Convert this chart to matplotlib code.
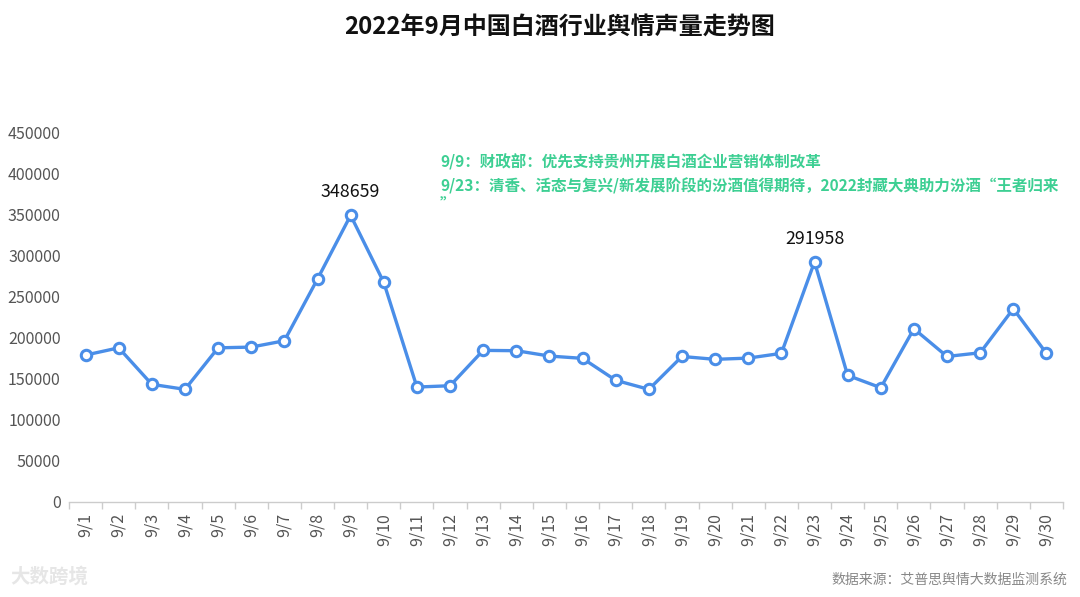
import matplotlib
matplotlib.use("Agg")
import matplotlib.pyplot as plt

plt.rcParams['font.family'] = ['Noto Sans CJK SC', 'DejaVu Sans']

dates = [f"9/{d}" for d in range(1, 31)]
values = [178700, 187500, 143100, 137000, 187500, 188400, 196100, 271200, 348659, 267100,
          139800, 141400, 184400, 184000, 177500, 174700, 148000, 137000, 177000, 173500,
          175000, 180800, 291958, 154000, 139000, 210700, 177000, 181500, 235000, 180800]
labelled = [8, 22]
yticks = [0, 50000, 100000, 150000, 200000, 250000, 300000, 350000, 400000, 450000]
title = "2022年9月中国白酒行业舆情声量走势图"
notes = ["9/9：财政部：优先支持贵州开展白酒企业营销体制改革",
         "9/23：清香、活态与复兴/新发展阶段的汾酒值得期待，2022封藏大典助力汾酒“王者归来",
         "”"]
source = "数据来源：艾普思舆情大数据监测系统"

W, H = 1080, 597
fig = plt.figure(figsize=(W / 100, H / 100), dpi=100)
ax = fig.add_axes([69 / W, 1 - 502 / H, (1063 - 69) / W, (502 - 132) / H])

x = list(range(len(dates)))
ax.plot(x, values, color='#4a8ee8', lw=2.4, marker='o', markersize=7.5,
        markerfacecolor='white', markeredgecolor='#4a8ee8', markeredgewidth=2.2,
        zorder=3, clip_on=False)

for i in labelled:
    ax.annotate(str(values[i]), (x[i], values[i]), xytext=(0, 10), textcoords='offset points',
                ha='center', va='bottom', fontsize=12.8, color='#111111')

ax.set_xlim(-0.5, len(dates) - 0.5)
ax.set_ylim(0, 450000)
ax.set_yticks(yticks)
ax.set_yticklabels([str(v) for v in yticks])
ax.set_xticks(x)
ax.set_xticklabels(dates, rotation=90)
ax.set_xticks([i - 0.5 for i in range(len(dates) + 1)], minor=True)
ax.tick_params(axis='x', which='major', length=0, pad=8, labelsize=11.5, labelcolor='#555555')
ax.tick_params(axis='x', which='minor', length=5, color='#cccccc', width=1)
ax.tick_params(axis='y', length=0, pad=6, labelsize=11.5, labelcolor='#555555')
for s in ['top', 'right', 'left']:
    ax.spines[s].set_visible(False)
ax.spines['bottom'].set_color('#cccccc')
ax.spines['bottom'].set_linewidth(1)

fig.text(560 / W, 1 - 27 / H, title, ha='center', va='center', fontsize=17.3,
         fontweight='bold', color='#111111')
for k, (t, yy) in enumerate(zip(notes, [162, 186, 204])):
    fig.text(440 / W, 1 - yy / H, t, ha='left', va='center', fontsize=11.2,
             fontweight='bold', color='#3dcf93')
fig.text(1067 / W, 1 - 580 / H, source, ha='right', va='center', fontsize=10,
         color='#888888')
fig.text(10 / W, 1 - 577 / H, "大数跨境", ha='left', va='center', fontsize=14,
         color='#e6e6e6', fontweight='bold')

fig.savefig("out.png", dpi=100)
